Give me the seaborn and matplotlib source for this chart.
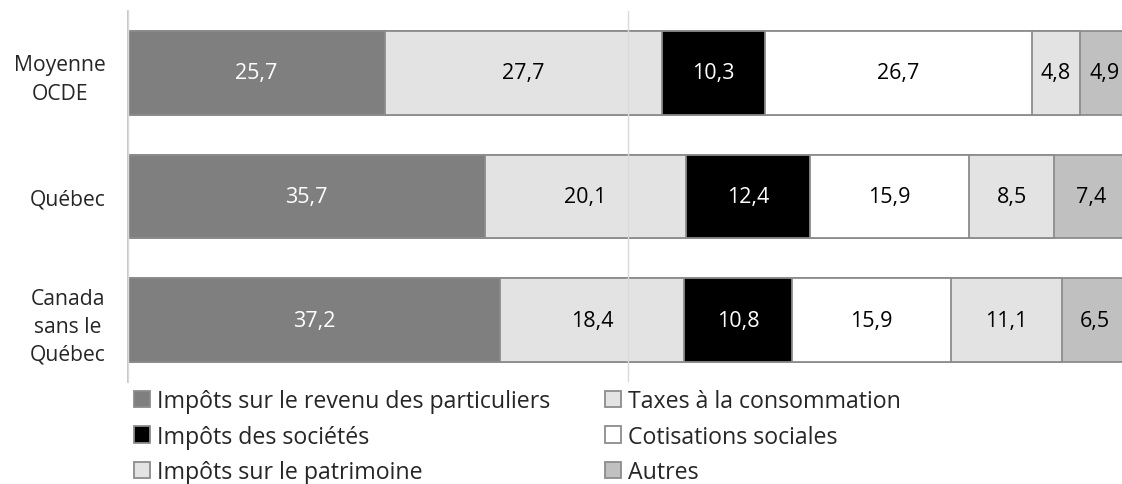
import numpy as np
import matplotlib.pyplot as plt
import seaborn as sns

# Data (share of total tax revenue, %)
regions = ["Moyenne\nOCDE", "Québec", "Canada\nsans le\nQuébec"]
series = [
    "Impôts sur le revenu des particuliers",
    "Taxes à la consommation",
    "Impôts des sociétés",
    "Cotisations sociales",
    "Impôts sur le patrimoine",
    "Autres",
]
revenu = [25.7, 35.7, 37.2]
consommation = [27.7, 20.1, 18.4]
societes = [10.3, 12.4, 10.8]
cotisations = [26.7, 15.9, 15.9]
patrimoine = [4.8, 8.5, 11.1]
autres = [4.9, 7.4, 6.5]

colors = ["#7f7f7f", "#e3e3e3", "#000000", "#ffffff", "#e3e3e3", "#c0c0c0"]
label_colors = ["white", "black", "white", "black", "black", "black"]

sns.set_style("white")
plt.rcParams["font.family"] = ["Open Sans", "DejaVu Sans"]

values = np.array([revenu, consommation, societes, cotisations, patrimoine, autres])
cum = values.cumsum(axis=0)

fig = plt.figure(figsize=(11.22, 4.85), dpi=100)
ax = fig.add_axes([128 / 1122, 1 - 383 / 485, 1000 / 1122, 371 / 485])

# stacked bars: draw cumulative totals from the longest to the shortest
for i in reversed(range(len(series))):
    sns.barplot(x=cum[i], y=regions, color=colors[i], saturation=1, orient="h",
                width=0.675, edgecolor="#8c8c8c", linewidth=1.3, ax=ax,
                label=series[i], zorder=2)

handles, labels = ax.get_legend_handles_labels()
if ax.get_legend() is not None:
    ax.get_legend().remove()

# value labels in the middle of each segment
for i in range(len(series)):
    for j in range(len(regions)):
        mid = cum[i][j] - values[i][j] / 2
        ax.text(mid, j, f"{values[i][j]:.1f}".replace(".", ","), ha="center",
                va="center", fontsize=15.5, color=label_colors[i], zorder=4)

ax.set_xlim(0, 100)
ax.set_ylim(2.5, -0.5)
ax.set_xticks([0, 50, 100])
ax.xaxis.grid(True, color="#d9d9d9", linewidth=1)
ax.set_axisbelow(False)
for line in ax.get_xgridlines():
    line.set_zorder(3)
ax.tick_params(axis="x", bottom=False, labelbottom=False)
ax.tick_params(axis="y", left=False, labelsize=15.2, pad=12.5)
for lbl in ax.get_yticklabels():
    lbl.set_multialignment("center")
    lbl.set_linespacing(1.45)
ax.set_xlabel("")
ax.set_ylabel("")
for side in ["top", "right", "bottom"]:
    ax.spines[side].set_visible(False)
ax.spines["left"].set_color("#bfbfbf")
ax.spines["left"].set_linewidth(1.2)

# legend: three rows, two columns
by_label = dict(zip(labels, handles))
order = [series[0], series[2], series[4], series[1], series[3], series[5]]
fig.legend([by_label[s] for s in order], order, loc="upper left",
           bbox_to_anchor=(134 / 1122, 1 - 390 / 485), ncol=2, frameon=False,
           fontsize=16.7, handlelength=0.7, handleheight=0.7, handletextpad=0.3,
           columnspacing=2.35, labelspacing=0.5, borderpad=0, borderaxespad=0)

fig.savefig("out.png", dpi=100)
